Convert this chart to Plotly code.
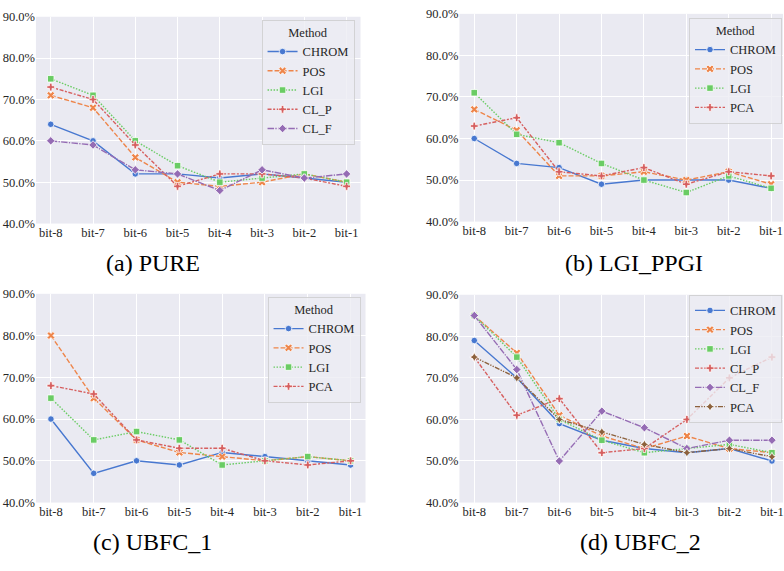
import plotly.graph_objects as go

# Bit-depth levels on the x axis
bits = ["bit-8", "bit-7", "bit-6", "bit-5", "bit-4", "bit-3", "bit-2", "bit-1"]

# Accuracy tick positions and their labels (percent)
y_ticks = [40, 50, 60, 70, 80, 90]
y_tick_labels = ["40.0%", "50.0%", "60.0%", "70.0%", "80.0%", "90.0%"]

# (a) PURE
pure_chrom = [64, 60, 52, 52, 51, 52, 51, 50]
pure_pos = [71, 68, 56, 50, 49, 50, 52, 50]
pure_lgi = [75, 71, 60, 54, 50, 51, 52, 50]
pure_clp = [73, 70, 59, 49, 52, 52, 51, 49]
pure_clf = [60, 59, 53, 52, 48, 53, 51, 52]

# (b) LGI_PPGI
lgi_chrom = [60, 54, 53, 49, 50, 50, 50, 48]
lgi_pos = [67, 62, 51, 51, 52, 50, 52, 49]
lgi_lgi = [71, 61, 59, 54, 50, 47, 51, 48]
lgi_pca = [63, 65, 52, 51, 53, 49, 52, 51]

# (c) UBFC_1
u1_chrom = [60, 47, 50, 49, 52, 51, 50, 49]
u1_pos = [80, 65, 55, 52, 51, 50, 51, 50]
u1_lgi = [65, 55, 57, 55, 49, 50, 51, 50]
u1_pca = [68, 66, 55, 53, 53, 50, 49, 50]

# (d) UBFC_2
u2_chrom = [79, 70, 59, 55, 53, 52, 53, 50]
u2_pos = [85, 76, 61, 56, 53, 56, 53, 52]
u2_lgi = [85, 75, 60, 55, 52, 53, 54, 52]
u2_clp = [75, 61, 65, 52, 53, 60, 70, 75]
u2_clf = [85, 72, 50, 62, 58, 53, 55, 55]
u2_pca = [75, 70, 60, 57, 54, 52, 53, 51]

captions = ["(a) PURE", "(b) LGI_PPGI", "(c) UBFC_1", "(d) UBFC_2"]

# seaborn "muted" palette, dash patterns and markers
C = ["#4878d0", "#ee854a", "#6acc64", "#d65f5f", "#956cb4", "#8c613c"]
DASH = ["solid", "5px,2px", "1.5px,1.5px", "4px,1.6px,2px,1.6px",
        "6.5px,1.3px,1.3px,1.3px", "5px,1.3px,1.3px,1.3px,1.3px,1.3px"]
SYM = ["circle", "x", "square", "cross", "diamond", "star-diamond"]

panels = [
    ([("CHROM", pure_chrom), ("POS", pure_pos), ("LGI", pure_lgi),
      ("CL_P", pure_clp), ("CL_F", pure_clf)], [0, 1, 2, 3, 4]),
    ([("CHROM", lgi_chrom), ("POS", lgi_pos), ("LGI", lgi_lgi),
      ("PCA", lgi_pca)], [0, 1, 2, 3]),
    ([("CHROM", u1_chrom), ("POS", u1_pos), ("LGI", u1_lgi),
      ("PCA", u1_pca)], [0, 1, 2, 3]),
    ([("CHROM", u2_chrom), ("POS", u2_pos), ("LGI", u2_lgi),
      ("CL_P", u2_clp), ("CL_F", u2_clf), ("PCA", u2_pca)], [0, 1, 2, 3, 4, 5]),
]

W, H = 784, 571
# plot-area boxes in pixels: (left, right, top, bottom)
boxes = [(36, 361, 10, 222), (460, 784, 7, 220), (36, 366, 294, 508), (460, 784, 295, 508)]
xranges = [[-0.35, 7.33], [-0.35, 7.28], [-0.35, 7.35], [-0.35, 7.26]]

fig = go.Figure()
FONT = "Liberation Serif"
TXT = "#262626"
tfont = dict(family=FONT, size=12.5, color=TXT)

layout = dict(
    width=W, height=H, margin=dict(l=0, r=0, t=0, b=0),
    paper_bgcolor="white", plot_bgcolor="#eaeaf2",
    font=dict(family=FONT, size=12, color=TXT),
    showlegend=True,
)

legend_pos = [(355, 13, True), (783, 11, True), (361, 297, True), (783, 295, False)]

for i, (series, styles) in enumerate(panels):
    n = "" if i == 0 else str(i + 1)
    xa, ya = "x" + n, "y" + n
    lg = "legend" + n
    for (name, vals), s in zip(series, styles):
        fig.add_trace(go.Scatter(
            x=bits, y=vals, name=name, mode="lines+markers",
            xaxis=xa, yaxis=ya, legend=lg,
            line=dict(color=C[s], width=1.4, dash=DASH[s]),
            marker=dict(symbol=SYM[s], size=6.5 if s != 1 else 7, color=C[s],
                        line=dict(color="white", width=0.8)),
        ))
    l, r, t, b = boxes[i]
    layout["xaxis" + n] = dict(
        domain=[l / W, r / W], anchor=ya, range=xranges[i],
        showgrid=True, gridcolor="white", gridwidth=1.2, zeroline=False,
        showline=False, ticks="", tickfont=tfont,
        categoryorder="array", categoryarray=bits,
    )
    layout["yaxis" + n] = dict(
        domain=[1 - b / H, 1 - t / H], anchor=xa, range=[40, 90],
        tickmode="array", tickvals=y_ticks, ticktext=y_tick_labels,
        showgrid=True, gridcolor="white", gridwidth=1.2, zeroline=False,
        showline=False, ticks="", tickfont=tfont,
    )
    lx, ly, has_title = legend_pos[i]
    leg = dict(
        x=lx / W, y=1 - ly / H, xanchor="right", yanchor="top",
        bgcolor="rgba(236,236,243,0.8)", bordercolor="rgba(204,204,204,0.8)",
        borderwidth=1, font=dict(family=FONT, size=12.5, color=TXT),
        itemwidth=30, tracegroupgap=0,
    )
    if has_title:
        leg["title"] = dict(text="Method", side="top center",
                            font=dict(family=FONT, size=12.5, color=TXT))
    layout[lg] = leg

cap_pos = [(153, 262), (635, 262), (153, 548), (641, 548)]
annotations = []
for text, (cx, cy) in zip(captions, cap_pos):
    annotations.append(dict(
        text=text, x=cx / W, y=1 - cy / H, xref="paper", yref="paper",
        xanchor="center", yanchor="middle", showarrow=False,
        font=dict(family=FONT, size=24, color="black"),
    ))
layout["annotations"] = annotations

fig.update_layout(**layout)
fig.write_html("out.html")
